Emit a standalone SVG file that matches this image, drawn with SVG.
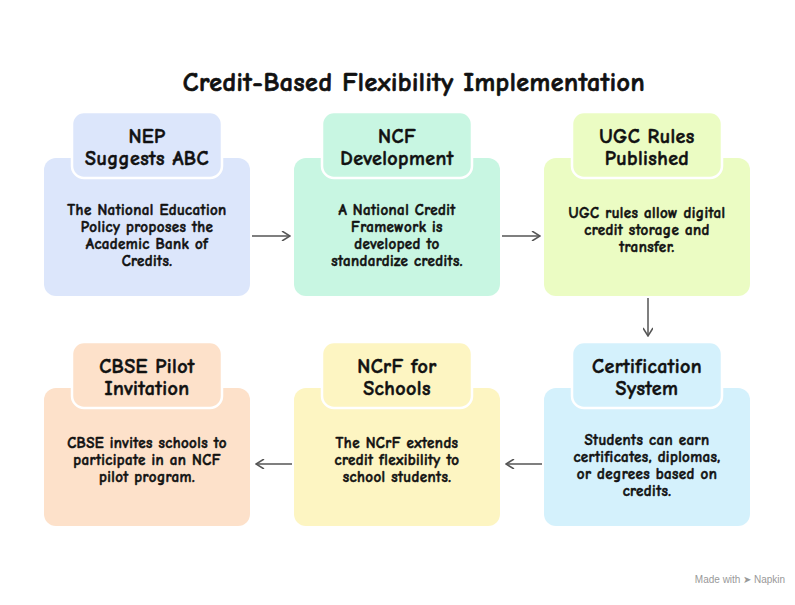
<svg xmlns="http://www.w3.org/2000/svg" width="795" height="605" viewBox="0 0 795 605">
<defs>
<style>
text{font-family:"Comic Neue","Lato","DejaVu Sans",sans-serif;font-weight:bold;fill:#111;text-anchor:middle;stroke:#111;stroke-width:0.5}
.t{font-size:20px;letter-spacing:0.4px}
.b{font-size:15px;letter-spacing:0.4px}
.h{font-size:26px;letter-spacing:0.5px;stroke-width:0.7}
.tab{stroke:#fff;stroke-width:2.5}
.c{fill:none;stroke:#555;stroke-width:1.5}
.nm{font-family:"Liberation Sans",sans-serif;font-weight:normal;font-size:10px;fill:#999;stroke:none}
</style>
<marker id="a" viewBox="0 0 10 10" refX="9" refY="5" markerWidth="10" markerHeight="10" markerUnits="userSpaceOnUse" orient="auto"><path d="M1,0 L9,5 L1,10" fill="none" stroke="#555" stroke-width="1.5"/></marker>
</defs>
<rect width="795" height="605" fill="#fff"/>
<text class="h" x="414" y="91">Credit-Based Flexibility Implementation</text>
<g id="n1"><rect x="44" y="158" width="206" height="138" rx="12" fill="#dce6fb"/><rect class="tab" x="72" y="112" width="150" height="66" rx="12" fill="#dce6fb"/>
<text class="t" x="147" y="143">NEP</text><text class="t" x="147" y="165">Suggests ABC</text>
<text class="b" x="147" y="215">The National Education</text><text class="b" x="147" y="232">Policy proposes the</text><text class="b" x="147" y="249">Academic Bank of</text><text class="b" x="147" y="266">Credits.</text></g>
<g id="n2"><rect x="294" y="158" width="206" height="138" rx="12" fill="#c8f6e2"/><rect class="tab" x="322" y="112" width="150" height="66" rx="12" fill="#c8f6e2"/>
<text class="t" x="397" y="143">NCF</text><text class="t" x="397" y="165">Development</text>
<text class="b" x="397" y="215">A National Credit</text><text class="b" x="397" y="232">Framework is</text><text class="b" x="397" y="249">developed to</text><text class="b" x="397" y="266">standardize credits.</text></g>
<g id="n3"><rect x="544" y="158" width="206" height="138" rx="12" fill="#ebfcc3"/><rect class="tab" x="572" y="112" width="150" height="66" rx="12" fill="#ebfcc3"/>
<text class="t" x="647" y="143">UGC Rules</text><text class="t" x="647" y="165">Published</text>
<text class="b" x="647" y="218">UGC rules allow digital</text><text class="b" x="647" y="235">credit storage and</text><text class="b" x="647" y="252">transfer.</text></g>
<g id="n4"><rect x="544" y="388" width="206" height="138" rx="12" fill="#d4f1fc"/><rect class="tab" x="572" y="342" width="150" height="66" rx="12" fill="#d4f1fc"/>
<text class="t" x="647" y="373">Certification</text><text class="t" x="647" y="395">System</text>
<text class="b" x="647" y="445">Students can earn</text><text class="b" x="647" y="462">certificates, diplomas,</text><text class="b" x="647" y="479">or degrees based on</text><text class="b" x="647" y="496">credits.</text></g>
<g id="n5"><rect x="294" y="388" width="206" height="138" rx="12" fill="#fdf5c2"/><rect class="tab" x="322" y="342" width="150" height="66" rx="12" fill="#fdf5c2"/>
<text class="t" x="397" y="373">NCrF for</text><text class="t" x="397" y="395">Schools</text>
<text class="b" x="397" y="448">The NCrF extends</text><text class="b" x="397" y="465">credit flexibility to</text><text class="b" x="397" y="482">school students.</text></g>
<g id="n6"><rect x="44" y="388" width="206" height="138" rx="12" fill="#fde1ca"/><rect class="tab" x="72" y="342" width="150" height="66" rx="12" fill="#fde1ca"/>
<text class="t" x="147" y="373">CBSE Pilot</text><text class="t" x="147" y="395">Invitation</text>
<text class="b" x="147" y="448">CBSE invites schools to</text><text class="b" x="147" y="465">participate in an NCF</text><text class="b" x="147" y="482">pilot program.</text></g>
<g id="connectors">
<line class="c" x1="252" y1="236" x2="290" y2="236" marker-end="url(#a)"/>
<line class="c" x1="502" y1="236" x2="540" y2="236" marker-end="url(#a)"/>
<line class="c" x1="648" y1="298" x2="648" y2="336" marker-end="url(#a)"/>
<line class="c" x1="542" y1="464" x2="506" y2="464" marker-end="url(#a)"/>
<line class="c" x1="292" y1="464" x2="256" y2="464" marker-end="url(#a)"/>
</g>
<text class="nm" x="740" y="583">Made with ➤ Napkin</text>
</svg>
